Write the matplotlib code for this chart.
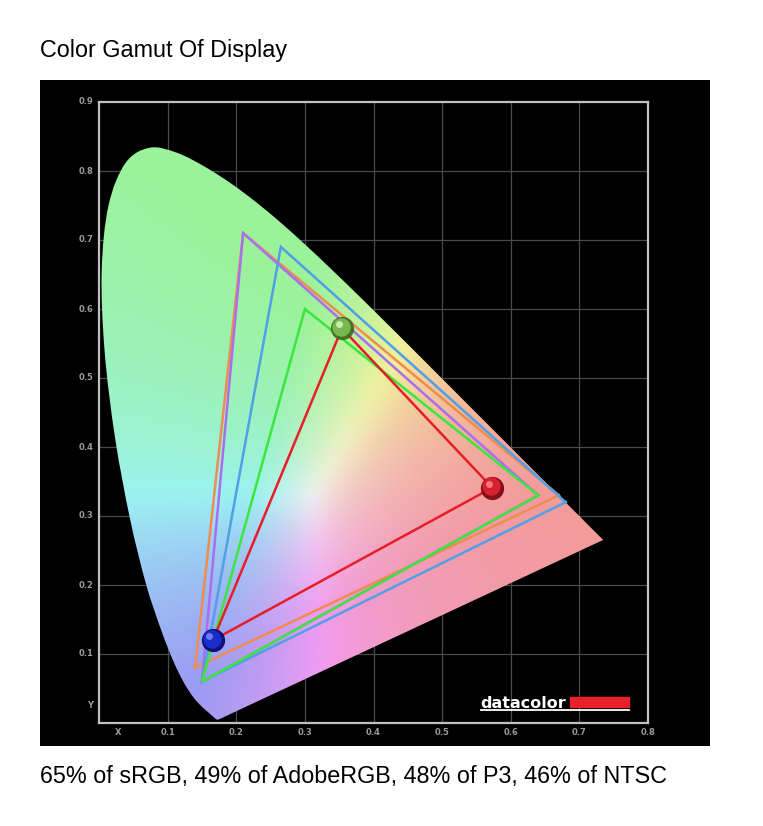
import numpy as np
import matplotlib
matplotlib.use("Agg")
import matplotlib.pyplot as plt
from matplotlib.path import Path
from matplotlib.patches import PathPatch, Rectangle

plt.rcParams['font.family'] = ['Liberation Sans', 'DejaVu Sans']

# CIE 1931 spectral locus (x, y), 380-700 nm
locus_x = [0.1741, 0.1740, 0.1738, 0.1736, 0.1733, 0.1730, 0.1726, 0.1721, 0.1714, 0.1703,
           0.1689, 0.1669, 0.1644, 0.1611, 0.1566, 0.1510, 0.1440, 0.1355, 0.1241, 0.1096,
           0.0913, 0.0687, 0.0454, 0.0235, 0.0082, 0.0039, 0.0139, 0.0389, 0.0743, 0.1142,
           0.1547, 0.1929, 0.2296, 0.2658, 0.3016, 0.3373, 0.3731, 0.4087, 0.4441, 0.4788,
           0.5125, 0.5448, 0.5752, 0.6029, 0.6270, 0.6482, 0.6658, 0.6801, 0.6915, 0.7006,
           0.7079, 0.7140, 0.7190, 0.7230, 0.7260, 0.7283, 0.7300, 0.7311, 0.7320, 0.7334,
           0.7344, 0.7347]
locus_y = [0.0050, 0.0050, 0.0049, 0.0049, 0.0048, 0.0048, 0.0048, 0.0048, 0.0051, 0.0058,
           0.0069, 0.0086, 0.0109, 0.0138, 0.0177, 0.0227, 0.0297, 0.0399, 0.0578, 0.0868,
           0.1327, 0.2007, 0.2950, 0.4127, 0.5384, 0.6548, 0.7502, 0.8120, 0.8338, 0.8262,
           0.8059, 0.7816, 0.7543, 0.7243, 0.6923, 0.6589, 0.6245, 0.5896, 0.5547, 0.5202,
           0.4866, 0.4544, 0.4242, 0.3965, 0.3725, 0.3514, 0.3340, 0.3197, 0.3083, 0.2993,
           0.2920, 0.2859, 0.2809, 0.2770, 0.2740, 0.2717, 0.2700, 0.2689, 0.2680, 0.2666,
           0.2656, 0.2653]

# gamut triangles: R, G, B vertices
ntsc_x = [0.67, 0.21, 0.14]
ntsc_y = [0.33, 0.71, 0.08]
adobe_x = [0.64, 0.21, 0.15]
adobe_y = [0.33, 0.71, 0.06]
p3_x = [0.68, 0.265, 0.15]
p3_y = [0.32, 0.69, 0.06]
srgb_x = [0.64, 0.30, 0.15]
srgb_y = [0.33, 0.60, 0.06]
display_x = [0.573, 0.354, 0.166]
display_y = [0.341, 0.572, 0.120]

title = "Color Gamut Of Display"
caption = "65% of sRGB, 49% of AdobeRGB, 48% of P3, 46% of NTSC"
xticks = [0.1, 0.2, 0.3, 0.4, 0.5, 0.6, 0.7, 0.8]
yticks = [0.1, 0.2, 0.3, 0.4, 0.5, 0.6, 0.7, 0.8, 0.9]


def chroma_colors(xx, yy):
    yy = np.maximum(yy, 1e-4)
    X = xx / yy
    Y = np.ones_like(xx)
    Z = (1 - xx - yy) / yy
    M = np.array([[3.2406, -1.5372, -0.4986],
                  [-0.9689, 1.8758, 0.0415],
                  [0.0557, -0.2040, 1.0570]])
    rgb = np.tensordot(np.stack([X, Y, Z], axis=-1), M.T, axes=1)
    rgb = np.clip(rgb, 0, None)
    rgb = rgb / np.maximum(rgb.max(axis=-1, keepdims=True), 1e-6)
    rgb = 0.61 + 0.34 * rgb
    return np.clip(rgb, 0, 1)


def soften(img, k=17):
    # small box blur so the colour creases fade like in the original
    w = np.ones(k) / k
    out = img.copy()
    for axis in (0, 1):
        pad = [(0, 0)] * 3
        pad[axis] = (k // 2, k // 2)
        p = np.pad(out, pad, mode='edge')
        out = np.apply_along_axis(lambda v: np.convolve(v, w, mode='valid'), axis, p)
    return out


def smooth_path(px, py):
    # curved outline through the locus points, straight purple line to close
    pts = np.column_stack([px, py])
    n = len(pts)
    verts = [pts[0]]
    codes = [Path.MOVETO]
    for i in range(n - 1):
        p0 = pts[max(i - 1, 0)]
        p1 = pts[i]
        p2 = pts[i + 1]
        p3 = pts[min(i + 2, n - 1)]
        verts += [p1 + (p2 - p0) / 6, p2 - (p3 - p1) / 6, p2]
        codes += [Path.CURVE4] * 3
    verts.append(pts[0])
    codes.append(Path.LINETO)
    verts.append(pts[0])
    codes.append(Path.CLOSEPOLY)
    return Path(verts, codes)


fig = plt.figure(figsize=(7.63, 8.26), dpi=100)
fig.patch.set_facecolor('white')

bg = fig.add_axes([40 / 763, 80 / 826, 670 / 763, 666 / 826])
bg.set_facecolor('black')
bg.set_xticks([])
bg.set_yticks([])
for s in bg.spines.values():
    s.set_visible(False)

ax = fig.add_axes([99 / 763, 103 / 826, 549 / 763, 621 / 826])
ax.set_facecolor('black')
ax.set_xlim(0, 0.8)
ax.set_ylim(0, 0.9)

gx, gy = np.meshgrid(np.linspace(0, 0.8, 400), np.linspace(0, 0.9, 450))
img = soften(chroma_colors(gx, gy))
im = ax.imshow(img, origin='lower', extent=[0, 0.8, 0, 0.9], aspect='auto',
               interpolation='bilinear', zorder=2)
patch = PathPatch(smooth_path(locus_x, locus_y), facecolor='none', edgecolor='none',
                  transform=ax.transData)
ax.add_patch(patch)
im.set_clip_path(patch)

# gamut triangles
for tx, ty, col in [(ntsc_x, ntsc_y, '#f08c50'),
                    (adobe_x, adobe_y, '#aa6ef0'),
                    (p3_x, p3_y, '#4fa0e6'),
                    (srgb_x, srgb_y, '#3ce63c'),
                    (display_x, display_y, '#e61e28')]:
    ax.plot(tx + tx[:1], ty + ty[:1], color=col, lw=1.8, zorder=4,
            solid_joinstyle='miter')

# balls on the measured primaries
ball_cols = [('#7a0008', '#d82030', '#ff9090'),
             ('#3a6a20', '#78b850', '#d8ffc0'),
             ('#00006a', '#1c2cc8', '#8090ff')]
for bx, by, (dark, mid, light) in zip(display_x, display_y, ball_cols):
    ax.scatter([bx], [by], s=280, color=dark, zorder=5, linewidths=0, alpha=0.9)
    ax.scatter([bx - 0.002], [by + 0.002], s=175, color=mid, zorder=6, linewidths=0)
    ax.scatter([bx - 0.005], [by + 0.006], s=25, color=light, zorder=7, linewidths=0, alpha=0.8)

# grid and axes
ax.set_xticks(xticks[:-1])
ax.set_yticks(yticks[:-1])
ax.grid(True, color='#4a4a4a', lw=0.9)
ax.set_axisbelow(True)
ax.tick_params(length=0, labelbottom=False, labelleft=False)
for s in ax.spines.values():
    s.set_color('#c0c0c0')
    s.set_linewidth(1.6)
    s.set_zorder(8)

for v in xticks:
    ax.text(v, -0.014, f"{v:.1f}", color='#9a9a9a', fontsize=6, ha='center', va='center',
            family='DejaVu Sans', fontweight='bold')
for v in yticks:
    ax.text(-0.008, v, f"{v:.1f}", color='#9a9a9a', fontsize=6, ha='right', va='center',
            family='DejaVu Sans', fontweight='bold')
ax.text(0.028, -0.014, "X", color='#9a9a9a', fontsize=6, ha='center', va='center',
        family='DejaVu Sans', fontweight='bold')
ax.text(-0.008, 0.025, "Y", color='#9a9a9a', fontsize=6, ha='right', va='center',
        family='DejaVu Sans', fontweight='bold')

# datacolor logo
ax.text(0.556, 0.022, "datacolor", color='white', fontsize=11.5, fontweight='bold',
        ha='left', va='baseline', family='DejaVu Sans', zorder=9)
ax.add_patch(Rectangle((0.687, 0.023), 0.086, 0.015, color='#e8202a', zorder=9))
ax.plot([0.557, 0.773], [0.019, 0.019], color='white', lw=1.3, zorder=9)

fig.text(40 / 763, 1 - 51 / 826, title, fontsize=16.8, ha='left', va='center', color='black')
fig.text(40 / 763, 1 - 777 / 826, caption, fontsize=16.8, ha='left', va='center', color='black')

fig.savefig('out.png', dpi=100, facecolor='white')
